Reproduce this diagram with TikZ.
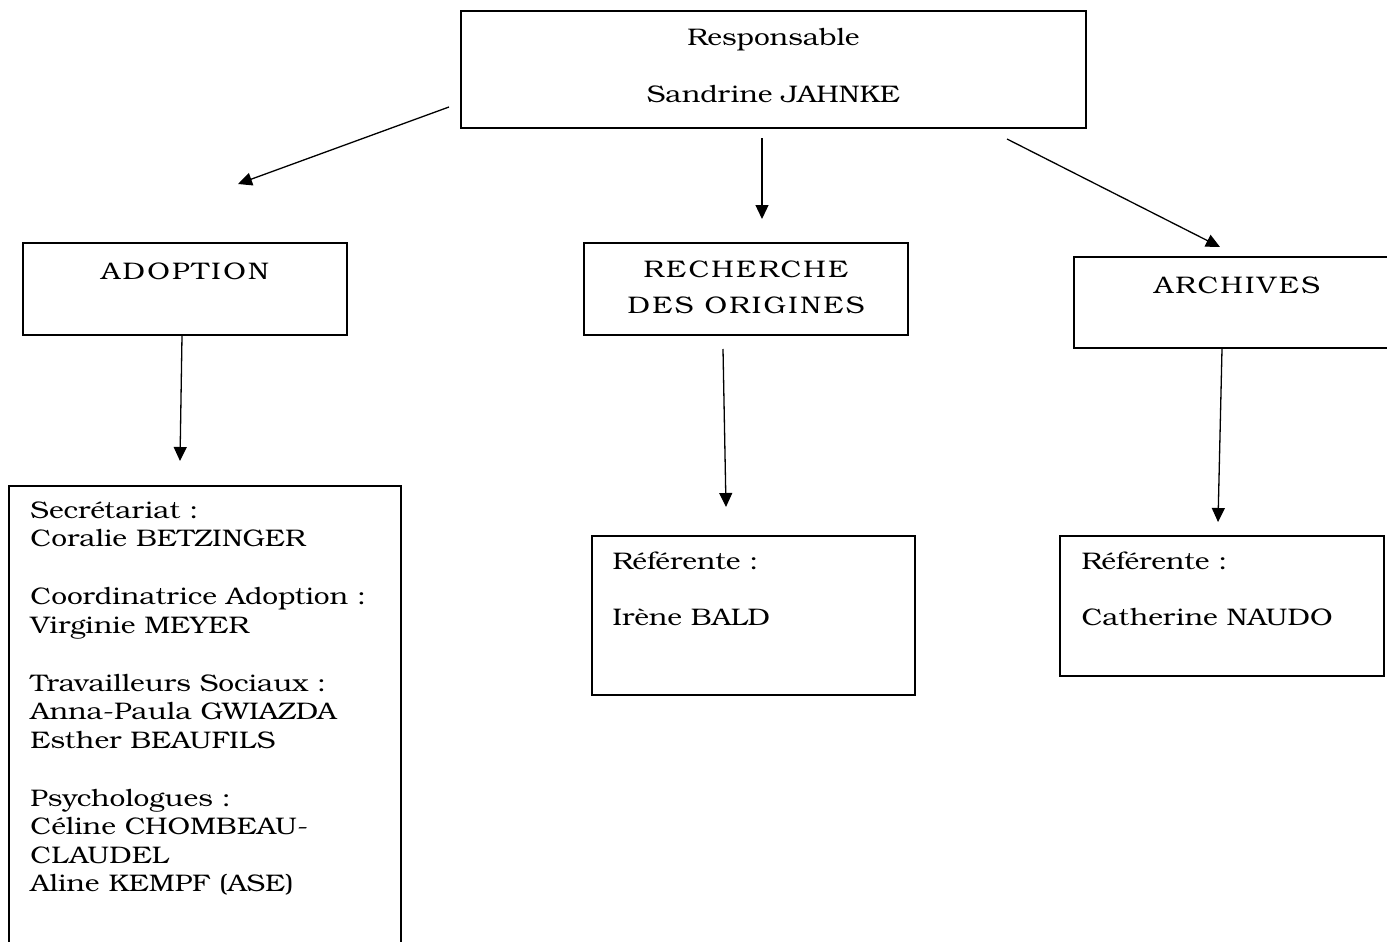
\documentclass[tikz,border=0pt]{standalone}
\usepackage{fontspec}
\setmainfont{TeX Gyre Bonum}[FakeStretch=1.17]
\newfontfamily\titre{TeX Gyre Bonum}[FakeStretch=1.17,LetterSpace=9.5]
\usetikzlibrary{arrows.meta}
\usetikzlibrary{positioning}

\begin{document}
\begin{tikzpicture}[x=1pt,y=-1pt,
  cadre/.style={draw=black,line width=1.4pt,rectangle,inner sep=0pt},
  texte/.style={font=\fontsize{24}{28.5}\selectfont,inner sep=0pt,text=black},
  entete/.style={texte,font=\titre\fontsize{24}{28.5}\selectfont},
  fleche/.style={draw=black,line width=1.3pt,-{Triangle[length=14pt,width=13pt]}}]
\useasboundingbox (0,0) rectangle (1387,942);

% boxes
\node[cadre,minimum width=625,minimum height=117] (haut) at (773.5,69.5) {};
\node[cadre,minimum width=324,minimum height=92] (adoption) at (185,289) {};
\node[cadre,minimum width=324,minimum height=92] (recherche) at (746,289) {};
\node[cadre,minimum width=326,minimum height=91] (archives) at (1237,302.5) {};
\node[cadre,minimum width=392,minimum height=474] (equipe) at (205,723) {};
\node[cadre,minimum width=323,minimum height=159] (refrech) at (753.5,615.5) {};
\node[cadre,minimum width=324,minimum height=140] (refarch) at (1222,606) {};

% texts
\node[texte,align=center,below=18pt of haut.north] {Responsable\\[28.5pt]Sandrine JAHNKE};
\node[entete,below=20pt of adoption.north] {ADOPTION};
\node[entete,align=center,below=18pt of recherche.north] {RECHERCHE\\[7.5pt]DES ORIGINES};
\node[entete,below=20pt of archives.north] {ARCHIVES};
\node[texte,align=left,below right=16pt and 22pt of equipe.north west] {Secrétariat :\\Coralie BETZINGER\\[29.5pt]Coordinatrice Adoption :\\Virginie MEYER\\[29.5pt]Travailleurs Sociaux :\\Anna-Paula GWIAZDA\\Esther BEAUFILS\\[29.5pt]Psychologues :\\Céline CHOMBEAU-\\CLAUDEL\\Aline KEMPF (ASE)};
\node[texte,align=left,below right=16pt and 21pt of refrech.north west] {Référente :\\[27.5pt]Irène BALD};
\node[texte,align=left,below right=16pt and 22pt of refarch.north west] {Référente :\\[27.5pt]Catherine NAUDO};

% arrows
\coordinate (dA) at (449,107); \coordinate (fA) at (238,184);
\coordinate (dB) at (762,138); \coordinate (fB) at (762,219);
\coordinate (dC) at (1007,139); \coordinate (fC) at (1220,247);
\coordinate (dD) at (182,336); \coordinate (fD) at (180,461);
\coordinate (dE) at (723,349); \coordinate (fE) at (726,507);
\coordinate (dF) at (1222,349); \coordinate (fF) at (1218,522);
\foreach \a in {A,B,C,D,E,F}
  \draw[fleche] (d\a) -- (f\a);

\end{tikzpicture}
\end{document}
